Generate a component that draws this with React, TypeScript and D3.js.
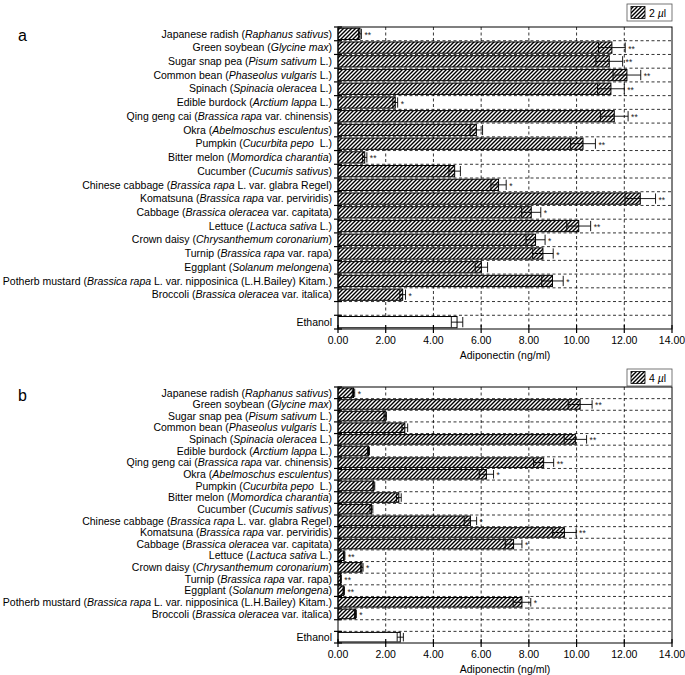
import React from "react";
import * as d3 from "d3";

// [common name, italic species, trailing text]
const categories: [string, string, string][] = [
  ["Japanese radish (", "Raphanus sativus", ")"],
  ["Green soybean (", "Glycine max", ")"],
  ["Sugar snap pea (", "Pisum sativum", " L.)"],
  ["Common bean (", "Phaseolus vulgaris", " L.)"],
  ["Spinach (", "Spinacia oleracea", " L.)"],
  ["Edible burdock (", "Arctium lappa", " L.)"],
  ["Qing geng cai (", "Brassica rapa", " var. chinensis)"],
  ["Okra (", "Abelmoschus esculentus", ")"],
  ["Pumpkin (", "Cucurbita pepo", "  L.)"],
  ["Bitter melon (", "Momordica charantia", ")"],
  ["Cucumber (", "Cucumis sativus", ")"],
  ["Chinese cabbage (", "Brassica rapa", " L. var. glabra Regel)"],
  ["Komatsuna (", "Brassica rapa", " var. perviridis)"],
  ["Cabbage (", "Brassica oleracea", " var. capitata)"],
  ["Lettuce (", "Lactuca sativa", " L.)"],
  ["Crown daisy (", "Chrysanthemum coronarium", ")"],
  ["Turnip (", "Brassica rapa", " var. rapa)"],
  ["Eggplant (", "Solanum melongena", ")"],
  ["Potherb mustard (", "Brassica rapa", " L. var. nipposinica (L.H.Bailey) Kitam.)"],
  ["Broccoli (", "Brassica oleracea", " var. italica)"],
];
const controlLabel = "Ethanol";

// Panel a: 2 µl
const valuesA = [0.92, 11.48, 11.37, 12.11, 11.44, 2.4, 11.58, 5.8, 10.27, 1.12, 4.89, 6.73, 12.67, 8.1, 10.09, 8.28, 8.59, 6.01, 8.99, 2.71];
const errorsA = [0.06, 0.56, 0.56, 0.58, 0.56, 0.1, 0.58, 0.26, 0.52, 0.09, 0.24, 0.32, 0.64, 0.4, 0.5, 0.4, 0.43, 0.26, 0.45, 0.12];
const starsA = ["**", "**", "**", "**", "**", "*", "**", "", "**", "**", "", "*", "**", "*", "**", "*", "*", "", "*", "*"];
const controlA = 4.99;
const controlErrA = 0.24;

// Panel b: 4 µl
const valuesB = [0.65, 10.15, 1.98, 2.8, 9.95, 1.28, 8.62, 6.22, 1.5, 2.55, 1.4, 5.55, 9.49, 7.36, 0.26, 1.0, 0.12, 0.24, 7.71, 0.73];
const errorsB = [0.05, 0.5, 0.05, 0.12, 0.47, 0.04, 0.42, 0.3, 0.04, 0.1, 0.06, 0.26, 0.49, 0.35, 0.03, 0.05, 0.02, 0.03, 0.37, 0.04];
const starsB = ["*", "**", "", "", "**", "", "**", "*", "", "", "", "*", "**", "*", "**", "*", "**", "**", "*", "*"];
const controlB = 2.61;
const controlErrB = 0.13;

const xTicks = [0, 2, 4, 6, 8, 10, 12, 14];
const xMax = 14;
const xTitle = "Adiponectin (ng/ml)";
const panelLetters = ["a", "b"];
const legendLabels = ["2 ", "4 "];

const FONT = "'Liberation Sans', Arial, Helvetica, sans-serif";

type PanelProps = {
  letter: string;
  legend: string;
  values: number[];
  errors: number[];
  stars: string[];
  control: number;
  controlErr: number;
  top: number;
  bottom: number;
  legendTop: number;
};

function Panel({ letter, legend, values, errors, stars, control, controlErr, top, bottom, legendTop }: PanelProps) {
  const left = 338;
  const right = 672;
  const x = d3.scaleLinear().domain([0, xMax]).range([left, right]);
  const keys = [...categories.map((_, i) => "c" + i), "blank", "ctrl"];
  const y = d3.scaleBand<string>().domain(keys).range([top, bottom]).paddingInner(0.18).paddingOuter(0.09);
  const step = y.step();
  const bh = y.bandwidth();
  const rows = categories.map((c, i) => ({
    key: "c" + i,
    label: c,
    v: values[i],
    e: errors[i],
    s: stars[i],
    hatched: true,
  }));
  rows.push({ key: "ctrl", label: ["", "", ""], v: control, e: controlErr, s: "", hatched: false });
  const boundaries = d3.range(keys.length + 1).map((i) => top + i * step);

  return (
    <g>
      <text x={18} y={top + 14} fontSize={16} fontFamily={FONT}>{letter}</text>
      {/* legend */}
      <g>
        <rect x={627} y={legendTop} width={45} height={17} fill="white" stroke="#555" strokeWidth={0.8} />
        <rect x={631} y={legendTop + 2.5} width={14} height={12} fill="url(#hatch)" stroke="black" strokeWidth={0.8} />
        <text x={649} y={legendTop + 12.5} fontSize={10.5} fontFamily={FONT}>
          {legend}
          <tspan fontStyle="italic">µ</tspan>l
        </text>
      </g>
      {/* grid */}
      {xTicks.slice(1, -1).map((t) => (
        <line key={"vg" + t} x1={x(t)} x2={x(t)} y1={top} y2={bottom} stroke="black" strokeWidth={0.8} strokeDasharray="3,2.5" />
      ))}
      {boundaries.slice(1, -1).map((b, i) => (
        <line key={"hg" + i} x1={left} x2={right} y1={b} y2={b} stroke="black" strokeWidth={0.8} strokeDasharray="3,2.5" />
      ))}
      {/* bars */}
      {rows.map((r) => {
        const yc = (y(r.key) as number) + bh / 2;
        const y0 = y(r.key) as number;
        const lo = x(Math.max(0, r.v - r.e));
        const hi = x(r.v + r.e);
        return (
          <g key={r.key}>
            <rect x={x(0)} y={y0} width={x(r.v) - x(0)} height={bh} fill={r.hatched ? "url(#hatch)" : "white"} stroke="black" strokeWidth={1} />
            <line x1={lo} x2={hi} y1={yc} y2={yc} stroke="black" strokeWidth={0.9} />
            <line x1={lo} x2={lo} y1={y0 + 0.5} y2={y0 + bh - 0.5} stroke="black" strokeWidth={0.9} />
            <line x1={hi} x2={hi} y1={y0 + 0.5} y2={y0 + bh - 0.5} stroke="black" strokeWidth={0.9} />
            {r.s && (
              <text x={hi + 3} y={yc + 4} fontSize={8.5} fontFamily={FONT} fill="#222">{r.s}</text>
            )}
          </g>
        );
      })}
      {/* frame */}
      <rect x={left} y={top} width={right - left} height={bottom - top} fill="none" stroke="black" strokeWidth={1} />
      {/* y ticks */}
      {boundaries.map((b, i) => (
        <line key={"yt" + i} x1={left - 4} x2={left + 4} y1={b} y2={b} stroke="black" strokeWidth={1.2} />
      ))}
      {/* y labels */}
      {rows.map((r) => {
        const yc = (y(r.key) as number) + bh / 2 + 3.7;
        if (r.key === "ctrl") {
          return (
            <text key={"l" + r.key} x={332} y={yc} fontSize={10.5} textAnchor="end" fontFamily={FONT}>{controlLabel}</text>
          );
        }
        return (
          <text key={"l" + r.key} x={332} y={yc} fontSize={10.5} textAnchor="end" fontFamily={FONT} style={{ whiteSpace: "pre" }}>
            {r.label[0]}
            <tspan fontStyle="italic">{r.label[1]}</tspan>
            {r.label[2]}
          </text>
        );
      })}
      {/* x axis ticks */}
      {xTicks.map((t) => (
        <g key={"xt" + t}>
          <line x1={x(t)} x2={x(t)} y1={bottom - 4} y2={bottom + 4} stroke="black" strokeWidth={1.2} />
          <text x={x(t)} y={bottom + 15} fontSize={10.5} textAnchor="middle" fontFamily={FONT}>{t.toFixed(2)}</text>
        </g>
      ))}
      <text x={(left + right) / 2} y={bottom + 30} fontSize={10.5} textAnchor="middle" fontFamily={FONT}>{xTitle}</text>
    </g>
  );
}

export default function App() {
  return (
    <svg width={685} height={675} style={{ position: "absolute", left: 0, top: 0, background: "white" }}>
      <defs>
        <pattern id="hatch" patternUnits="userSpaceOnUse" width={4} height={4}>
          <rect width={4} height={4} fill="white" />
          <path d="M-1,1 L1,-1 M0,4 L4,0 M3,5 L5,3" stroke="black" strokeWidth={1.4} />
        </pattern>
      </defs>
      <rect width={685} height={675} fill="white" />
      <Panel letter={panelLetters[0]} legend={legendLabels[0]} values={valuesA} errors={errorsA} stars={starsA}
        control={controlA} controlErr={controlErrA} top={27} bottom={329} legendTop={4} />
      <Panel letter={panelLetters[1]} legend={legendLabels[1]} values={valuesB} errors={errorsB} stars={starsB}
        control={controlB} controlErr={controlErrB} top={387} bottom={643} legendTop={369} />
    </svg>
  );
}
